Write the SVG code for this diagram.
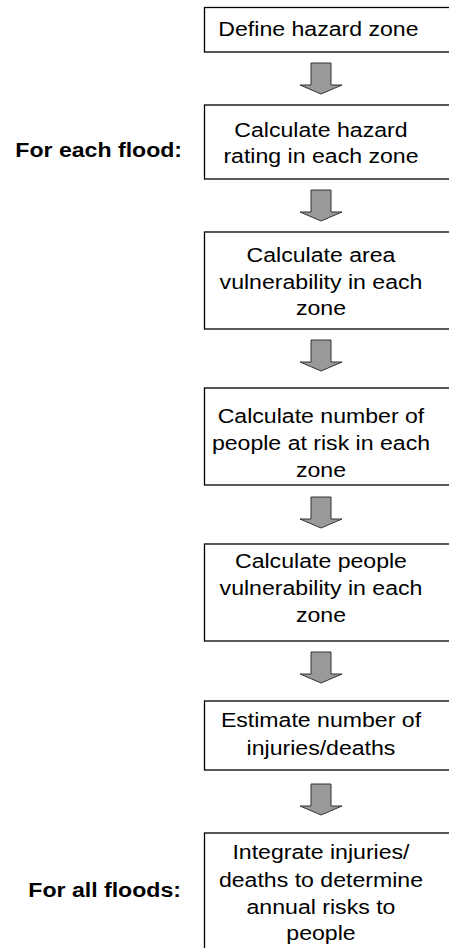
<svg xmlns="http://www.w3.org/2000/svg" width="449" height="948" viewBox="0 0 449 948">
<style>
.box{fill:#fff;stroke:#000;stroke-width:1.3}
.t{font-family:"Liberation Sans",Arial,sans-serif;font-size:21px;fill:#000;text-anchor:middle}
.l{font-family:"Liberation Sans",Arial,sans-serif;font-size:21px;font-weight:bold;fill:#000;text-anchor:end}
.arr{fill:#999;stroke:#333;stroke-width:1}
</style>
<defs>
<polygon id="arrow" class="arr" points="-10,0 10,0 10,22 21,22 0,31 -21,22 -10,22"/>
</defs>
<g id="labels">
<text class="l" transform="scale(1.1,1)" x="165.5" y="157">For each flood:</text>
<text class="l" transform="scale(1.1,1)" x="164.5" y="897">For all floods:</text>
</g>
<g id="n1">
<rect class="box" x="204.5" y="7.5" width="260" height="44.5"/>
<text class="t" transform="scale(1.1,1)" x="289.5" y="36">Define hazard zone</text>
</g>
<g id="n2">
<rect class="box" x="204.5" y="105" width="260" height="74"/>
<text class="t" transform="scale(1.1,1)" x="291.8" y="137">Calculate hazard</text>
<text class="t" transform="scale(1.1,1)" x="291.8" y="163">rating in each zone</text>
</g>
<g id="n3">
<rect class="box" x="204.5" y="232" width="260" height="97"/>
<text class="t" transform="scale(1.1,1)" x="291.8" y="262">Calculate area</text>
<text class="t" transform="scale(1.1,1)" x="291.8" y="289">vulnerability in each</text>
<text class="t" transform="scale(1.1,1)" x="291.8" y="315">zone</text>
</g>
<g id="n4">
<rect class="box" x="204.5" y="388" width="260" height="97"/>
<text class="t" transform="scale(1.1,1)" x="291.8" y="423">Calculate number of</text>
<text class="t" transform="scale(1.1,1)" x="291.8" y="450">people at risk in each</text>
<text class="t" transform="scale(1.1,1)" x="291.8" y="477">zone</text>
</g>
<g id="n5">
<rect class="box" x="204.5" y="544" width="260" height="97"/>
<text class="t" transform="scale(1.1,1)" x="291.8" y="568">Calculate people</text>
<text class="t" transform="scale(1.1,1)" x="291.8" y="595">vulnerability in each</text>
<text class="t" transform="scale(1.1,1)" x="291.8" y="622">zone</text>
</g>
<g id="n6">
<rect class="box" x="204.5" y="701" width="260" height="69"/>
<text class="t" transform="scale(1.1,1)" x="291.8" y="727">Estimate number of</text>
<text class="t" transform="scale(1.1,1)" x="291.8" y="755">injuries/deaths</text>
</g>
<g id="n7">
<rect class="box" x="204.5" y="833" width="260" height="130"/>
<text class="t" transform="scale(1.1,1)" x="291.8" y="859">Integrate injuries/</text>
<text class="t" transform="scale(1.1,1)" x="291.8" y="887">deaths to determine</text>
<text class="t" transform="scale(1.1,1)" x="291.8" y="914">annual risks to</text>
<text class="t" transform="scale(1.1,1)" x="291.8" y="940">people</text>
</g>
<g id="connectors">
<use href="#arrow" x="321" y="63"/>
<use href="#arrow" x="321" y="190"/>
<use href="#arrow" x="321" y="340"/>
<use href="#arrow" x="321" y="497"/>
<use href="#arrow" x="321" y="652"/>
<use href="#arrow" x="321" y="784"/>
</g>
</svg>
